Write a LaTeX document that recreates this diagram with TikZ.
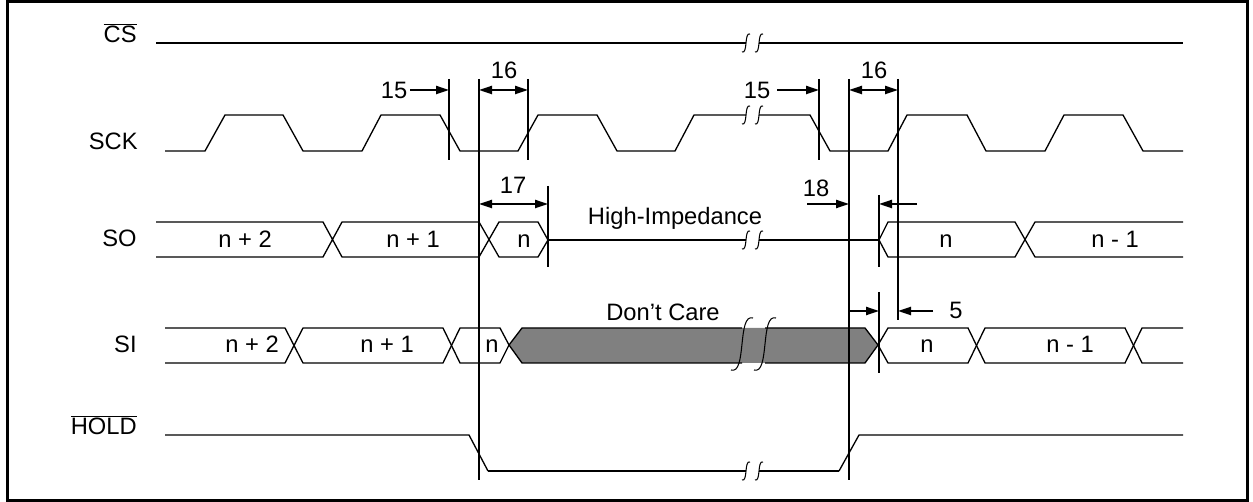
\documentclass[tikz,border=0pt]{standalone}
\usepackage{fontspec}
\setmainfont{Liberation Sans}
\usetikzlibrary{arrows.meta}
\newcommand\brkS[2]{\draw[brk] (#1-4,#2+9) .. controls (#1+2,#2+11) and (#1-2,#2-11) .. (#1+4,#2-9);}
\newcommand\brkL[2]{\draw[brk] (#1-11,#2+26) .. controls (#1+5,#2+31) and (#1-5,#2-31) .. (#1+11,#2-26);}
\begin{document}
\begin{tikzpicture}[x=0.02cm,y=-0.02cm,
  sig/.style={line width=0.75pt},
  heavy/.style={line width=1.15pt},
  brk/.style={line width=0.6pt},
  vline/.style={line width=1.15pt},
  lbl/.style={font=\fontsize{13.5}{15}\selectfont, inner sep=0pt},
  siglbl/.style={lbl, anchor=base east},
  buslbl/.style={lbl, anchor=base},
  dim/.style={line width=1.15pt, -{Triangle[length=7.4pt,width=4.6pt]}},
  dimb/.style={line width=1.15pt, {Triangle[length=7.4pt,width=4.6pt]}-{Triangle[length=7.4pt,width=4.6pt]}},
]
\useasboundingbox (0,0) rectangle (1253,502);
\draw[line width=1.2pt] (7.5,1.5) rectangle (1247.5,500.5);

% signal names
\node[siglbl] (lcs) at (137,43) {$\overline{\hbox{CS}}$};
\node[siglbl] (lsck) at (138,150) {SCK};
\node[siglbl] (lso) at (137,247) {SO};
\node[siglbl] (lsi) at (137,353) {SI};
\node[siglbl] (lhold) at (137,435) {$\overline{\hbox{HOLD}}$};

% CS
\draw[heavy] (156,43) -- (746,43);
\brkS{746}{43}\brkS{759}{43}
\draw[heavy] (759,43) -- (1183,43);

% SCK
\draw[sig] (165,151) -- (205,151) -- (225,115) -- (283,115) -- (303,151) -- (362,151) -- (381,115) -- (440,115) -- (460,151) -- (518,151) -- (538,115) -- (597,115) -- (617,151) -- (675,151) -- (694,115) -- (746,115);
\brkS{746}{115}\brkS{759}{115}
\draw[sig] (759,115) -- (810,115) -- (830,151) -- (888,151) -- (907,115) -- (967,115) -- (986,151) -- (1045,151) -- (1064,115) -- (1123,115) -- (1143,151) -- (1183,151);

% SO bus
\draw[sig] (156,222) -- (323,222) -- (342,257) -- (479,257) -- (499,222) -- (538,222) -- (548,240) -- (538,257) -- (499,257) -- (479,222) -- (342,222) -- (323,257) -- (156,257);
\draw[heavy] (548,240) -- (746,240);
\brkS{746}{240}\brkS{759}{240}
\draw[heavy] (759,240) -- (879,240);
\draw[sig] (879,240) -- (888,222) -- (1015,222) -- (1035,257) -- (1183,257);
\draw[sig] (879,240) -- (888,257) -- (1015,257) -- (1035,222) -- (1183,222);

% SI bus
\draw[sig] (165,328) -- (285,328) -- (303,363) -- (443,363) -- (460,328) -- (500,328) -- (509,345);
\draw[sig] (165,363) -- (285,363) -- (303,328) -- (443,328) -- (460,363) -- (500,363) -- (509,345);
\fill[fill={rgb,255:red,128;green,128;blue,128}] (509,345) -- (522,328) -- (865,328) -- (878,345) -- (865,363) -- (522,363) -- cycle;
\draw[sig] (742,328) -- (522,328) -- (509,345) -- (522,363) -- (742,363);
\draw[sig] (765,328) -- (865,328) -- (878,345) -- (865,363) -- (765,363);
\brkL{742}{344}\brkL{765}{344}
\draw[sig] (878,345) -- (888,328) -- (968,328) -- (985,363) -- (1125,363) -- (1142,328) -- (1183,328);
\draw[sig] (878,345) -- (888,363) -- (968,363) -- (985,328) -- (1125,328) -- (1142,363) -- (1183,363);

% HOLD
\draw[sig] (165,435) -- (469,435) -- (488,471);
\draw[heavy] (488,471) -- (746,471);
\brkS{746}{471}\brkS{759}{471}
\draw[heavy] (759,471) -- (839,471);
\draw[sig] (839,471) -- (859,435) -- (1183,435);

% bus labels
\node[buslbl] (so1) at (245,248) {n + 2};
\node[buslbl] (so2) at (413,248) {n + 1};
\node[buslbl] (so3) at (524,248) {n};
\node[buslbl] (so4) at (946,248) {n};
\node[buslbl] (so5) at (1115,248) {n - 1};
\node[buslbl] (si1) at (252,353) {n + 2};
\node[buslbl] (si2) at (387,353) {n + 1};
\node[buslbl] (si3) at (492,353) {n};
\node[buslbl] (si4) at (927,353) {n};
\node[buslbl] (si5) at (1070,353) {n - 1};
\node[lbl] (hiz) at (675,218) {High-Impedance};
\node[lbl] (dc) at (663,312) {Don’t Care};

% vertical timing lines
\coordinate (v1t) at (449,79);  \coordinate (v1b) at (449,160);
\coordinate (v2t) at (479,79);  \coordinate (v2b) at (479,480);
\coordinate (v3t) at (528,79);  \coordinate (v3b) at (528,160);
\coordinate (v4t) at (819,79);  \coordinate (v4b) at (819,160);
\coordinate (v5t) at (849,79);  \coordinate (v5b) at (849,480);
\coordinate (v6t) at (898,79);  \coordinate (v6b) at (898,320);
\coordinate (v7t) at (548,186); \coordinate (v7b) at (548,267);
\coordinate (v8t) at (879,195); \coordinate (v8b) at (879,267);
\coordinate (v9t) at (879,292); \coordinate (v9b) at (879,373);
\foreach \v in {1,...,9} {\draw[vline] (v\v t) -- (v\v b);}

% timing arrows
\node[lbl] (t15a) at (394,90) {15};
\coordinate (a15a) at (410,90);
\draw[dim] (a15a) -- (v1t |- a15a);
\node[lbl] (t16a) at (504,70) {16};
\draw[dimb] (v2t |- a15a) -- (v3t |- a15a);
\node[lbl] (t15b) at (757,90) {15};
\coordinate (a15b) at (777,90);
\draw[dim] (a15b) -- (v4t |- a15b);
\node[lbl] (t16b) at (874,70) {16};
\draw[dimb] (v5t |- a15b) -- (v6t |- a15b);
\node[lbl] (t17) at (513,185) {17};
\coordinate (a17) at (548,204);
\draw[dimb] (v2t |- a17) -- (a17);
\node[lbl] (t18) at (816,188) {18};
\coordinate (a18) at (807,204);
\draw[dim] (a18) -- (v5t |- a18);
\coordinate (a18r) at (917,204);
\draw[dim] (a18r) -- (v8t |- a18r);
\coordinate (a5) at (933,311);
\draw[dim] (v5t |- a5) -- (v9t |- a5);
\draw[dim] (a5) -- (v6t |- a5);
\node[lbl] (t5) at (956,310) {5};
\end{tikzpicture}
\end{document}
